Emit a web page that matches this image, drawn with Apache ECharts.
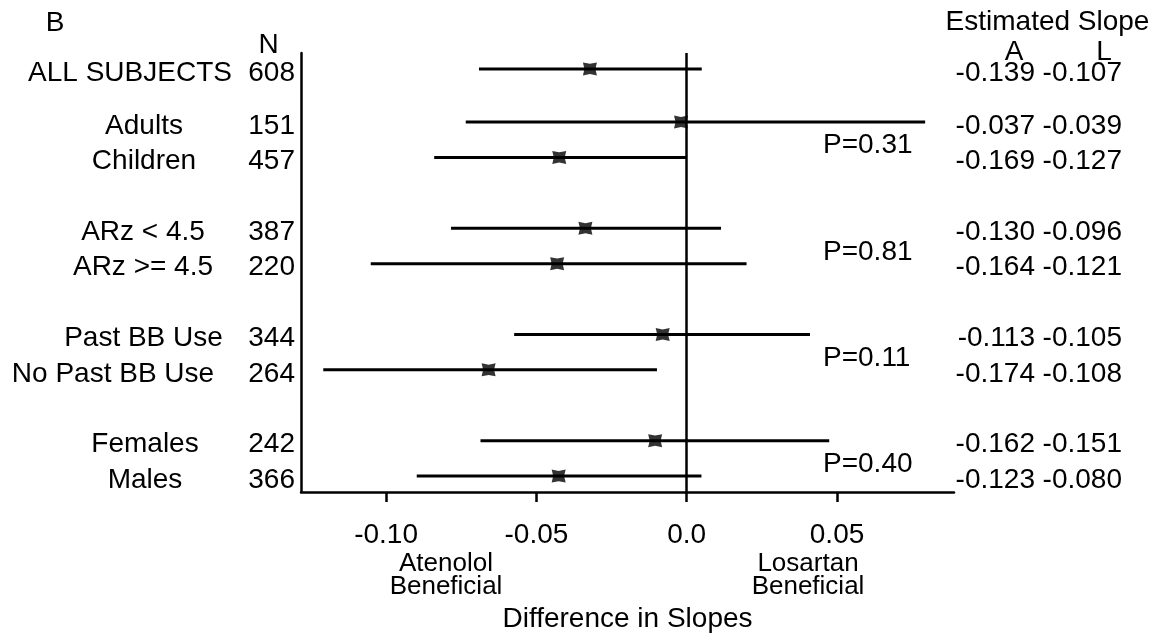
<!DOCTYPE html>
<html><head><meta charset="utf-8">
<script src="https://cdn.jsdelivr.net/npm/echarts@6/dist/echarts.min.js"></script>
<style>html,body{margin:0;padding:0;background:#fff}#c{width:1157px;height:639px}</style>
</head><body><div id="c"></div>
<script>
// ---- data ----
const subgroups = ['ALL SUBJECTS','Adults','Children','ARz < 4.5','ARz >= 4.5','Past BB Use','No Past BB Use','Females','Males'];
const nValues = [608,151,457,387,220,344,264,242,366];
const rowPositions = [0,1.5,2.5,4.5,5.5,7.5,8.5,10.5,11.5];
const estimates = [-0.0322,-0.0019,-0.0424,-0.0337,-0.0431,-0.0080,-0.0659,-0.0105,-0.0426];
const lowerCI  = [-0.0691,-0.0735,-0.0840,-0.0784,-0.1051,-0.0574,-0.1209,-0.0686,-0.0898];
const upperCI  = [0.0050,0.0793,0.0000,0.0114,0.0199,0.0410,-0.0099,0.0474,0.0049];
const slopeA = ['-0.139','-0.037','-0.169','-0.130','-0.164','-0.113','-0.174','-0.162','-0.123'];
const slopeL = ['-0.107','-0.039','-0.127','-0.096','-0.121','-0.105','-0.108','-0.151','-0.080'];
const pValues = ['P=0.31','P=0.81','P=0.11','P=0.40'];
const pValueRows = [2.0,5.0,8.0,11.0];
const xTicks = [-0.10,-0.05,0.0,0.05];
const xTickLabels = ['-0.10','-0.05','0.0','0.05'];

// ---- layout ----
const FONT = 'Liberation Sans, Arial, sans-serif';
const nameCenterX = [130,144,144,143,143,143.5,113,145,145];

const chart = echarts.init(document.getElementById('c'), null, {renderer:'canvas'});
const marker = 'path://M0,0 L5,1.1 L10,0 L8.9,5 L10,10 L5,8.9 L0,10 L1.1,5 Z';

chart.setOption({
  backgroundColor:'#fff',
  animation:false,
  textStyle:{fontFamily:FONT},
  grid:{left:301, right:203, top:53, bottom:147},
  xAxis:{
    type:'value', min:-0.1283, max:0.0889,
    axisLine:{show:true, onZero:false, lineStyle:{color:'#000', width:2.5}},
    axisTick:{show:true, customValues:xTicks, length:10, lineStyle:{color:'#000', width:2.5}},
    axisLabel:{show:true, customValues:xTicks, margin:29, fontSize:28, color:'#000', fontFamily:FONT,
      formatter:v=>{const i=xTicks.findIndex(t=>Math.abs(t-v)<1e-9);return i>=0?xTickLabels[i]:'';}},
    splitLine:{show:false},
    name:'Difference in Slopes', nameLocation:'middle', nameGap:113,
    nameTextStyle:{fontSize:28, color:'#000', fontFamily:FONT}
  },
  yAxis:{
    type:'value', inverse:true, min:-0.45, max:11.95,
    axisLine:{show:true, onZero:false, lineStyle:{color:'#000', width:2.5}},
    axisTick:{show:false}, axisLabel:{show:false}, splitLine:{show:false}
  },
  series:[
    {
      type:'custom', silent:true, z:2,
      data: subgroups.map((s,i)=>[lowerCI[i], upperCI[i], rowPositions[i]]),
      encode:{x:[0,1], y:2},
      renderItem:(params, api)=>{
        const p1 = api.coord([api.value(0), api.value(2)]);
        const p2 = api.coord([api.value(1), api.value(2)]);
        return {type:'line', shape:{x1:p1[0],y1:p1[1],x2:p2[0],y2:p2[1]}, style:{stroke:'#000', lineWidth:3}};
      }
    },
    {
      type:'scatter', silent:true, z:3,
      symbol:marker, symbolSize:[14,13],
      itemStyle:{color:'#000'},
      data: estimates.map((e,i)=>[e, rowPositions[i]]),
      markLine:{silent:true, symbol:'none', label:{show:false},
        lineStyle:{color:'#000', width:2.5, type:'solid'}, data:[{xAxis:0}]}
    }
  ]
});

function txt(text, x, y, align, size){
  return {type:'text', x:x, y:y, silent:true,
    style:{text:text, fontSize:size||28, fontFamily:FONT, fill:'#000', align:align||'center', verticalAlign:'middle'}};
}
const rowY = p => chart.convertToPixel({yAxisIndex:0}, p);
const g = [];
g.push(txt('B', 55, 23, 'center'));
g.push(txt('N', 268.5, 45, 'center'));
g.push(txt('Estimated Slope', 1047.5, 22, 'center'));
g.push(txt('A', 1014, 52, 'center'));
g.push(txt('L', 1104, 52, 'center'));
subgroups.forEach((s,i)=>{
  const y = rowY(rowPositions[i]) + 4;
  g.push(txt(s, nameCenterX[i], y, 'center'));
  g.push(txt(String(nValues[i]), 295, y, 'right'));
  g.push(txt(slopeA[i], 1035, y, 'right'));
  g.push(txt(slopeL[i], 1122, y, 'right'));
});
pValues.forEach((p,i)=>{
  g.push(txt(p, 823, rowY(pValueRows[i]) + 6, 'left'));
});
g.push(txt('Atenolol', 446, 564, 'center', 26));
g.push(txt('Beneficial', 446, 587, 'center', 26));
g.push(txt('Losartan', 808, 564, 'center', 26));
g.push(txt('Beneficial', 808, 587, 'center', 26));
chart.setOption({graphic:g});
</script>
</body></html>
